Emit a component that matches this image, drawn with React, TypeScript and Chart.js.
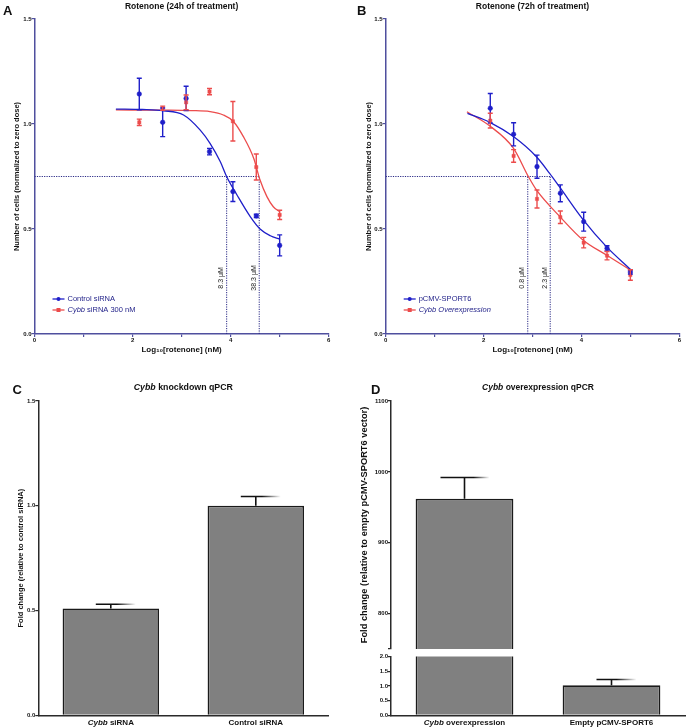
import React, { useEffect, useRef } from 'react';
import { Chart, registerables } from 'chart.js';

Chart.register(...registerables);

const FONT = '"Liberation Sans", Arial, Helvetica, sans-serif';
Chart.defaults.font.family = FONT;
Chart.defaults.color = '#111';

// ---------------- Panel A: Rotenone 24h ----------------
const doseLog10 = [2.137, 2.614, 3.092, 3.569, 4.046, 4.523, 5.0];
const aTitle = 'Rotenone (24h of treatment)';
const aSeriesNames = ['Control siRNA', 'Cybb siRNA 300 nM'];
const aControlMean = [1.143, 1.008, 1.122, 0.868, 0.678, 0.562, 0.422];
const aControlErr = [0.075, 0.068, 0.058, 0.015, 0.047, 0.008, 0.05];
const aCybbMean = [1.008, 1.075, 1.103, 1.154, 1.013, 0.795, 0.567];
const aCybbErr = [0.015, 0.01, 0.035, 0.015, 0.094, 0.062, 0.022];
const aControlFitX = [1.66, 2.2, 2.63, 3.04, 3.38, 3.58, 3.79, 3.92, 4.13, 4.4, 4.6, 4.81, 5.0];
const aControlFitY = [1.071, 1.069, 1.063, 1.043, 0.971, 0.908, 0.82, 0.749, 0.662, 0.559, 0.5, 0.468, 0.452];
const aCybbFitX = [1.66, 2.6, 3.2, 3.58, 3.85, 4.06, 4.26, 4.47, 4.6, 4.74, 4.87, 5.0];
const aCybbFitY = [1.067, 1.066, 1.064, 1.059, 1.043, 1.011, 0.94, 0.837, 0.733, 0.654, 0.606, 0.582];
const aIc50Log = [3.919, 4.583];
const aIc50Labels = ['8.3 μM', '38.3 μM'];

// ---------------- Panel B: Rotenone 72h ----------------
const bTitle = 'Rotenone (72h of treatment)';
const bSeriesNames = ['pCMV-SPORT6', 'Cybb Overexpression'];
const bVectorMean = [1.075, 0.951, 0.797, 0.67, 0.535, 0.408, 0.295];
const bVectorErr = [0.07, 0.055, 0.055, 0.04, 0.045, 0.012, 0.01];
const bCybbMean = [1.016, 0.848, 0.643, 0.556, 0.435, 0.373, 0.281];
const bCybbErr = [0.035, 0.03, 0.043, 0.03, 0.025, 0.02, 0.025];
const bVectorFitX = [1.67, 2.13, 2.61, 3.08, 3.35, 3.56, 4.03, 4.51, 5.0];
const bVectorFitY = [1.051, 1.008, 0.94, 0.844, 0.765, 0.698, 0.546, 0.416, 0.308];
const bCybbFitX = [1.66, 2.13, 2.61, 2.91, 3.08, 3.56, 4.03, 4.51, 5.0];
const bCybbFitY = [1.058, 0.99, 0.885, 0.752, 0.686, 0.559, 0.448, 0.376, 0.305];
const bIc50Log = [2.903, 3.362];
const bIc50Labels = ['0.8 μM', '2.3 μM'];

const halfLevel = 0.75;
const curveYTitle = 'Number of cells (normalized to zero dose)';
const curveXTitle = 'Log₁₀[rotenone] (nM)';

// ---------------- Panel C: knockdown qPCR ----------------
const cTitle = 'Cybb knockdown qPCR';
const cCategories = ['Cybb siRNA', 'Control siRNA'];
const cMeans = [0.51, 1.0];
const cErrors = [0.02, 0.044];
const cYTitle = 'Fold change (relative to control siRNA)';

// ---------------- Panel D: overexpression qPCR ----------------
const dTitle = 'Cybb overexpression qPCR';
const dCategories = ['Cybb overexpression', 'Empty pCMV-SPORT6'];
const dMeans = [962, 1.02];
const dErrors = [30, 0.2];
const dYTitle = 'Fold change (relative to empty pCMV-SPORT6 vector)';

// ---------------- styling ----------------
const BLUE = '#1f1fc9';
const RED = '#ec4c4c';
const AXIS_AB = '#4f4f9e';
const GUIDE = '#2a2a86';
const LEGEND_TEXT = '#24248a';
const AXIS_CD = '#2a2a2a';

type Seg = { t: string; i?: boolean };

function rich(label: string, allItalic = false): Seg[] {
  if (allItalic) return [{ t: label, i: true }];
  if (label.startsWith('Cybb')) return [{ t: 'Cybb', i: true }, { t: label.slice(4) }];
  return [{ t: label }];
}

function drawRich(ctx: CanvasRenderingContext2D, segs: Seg[], x: number, y: number, size: number, weight: string, color: string, align: 'left' | 'center') {
  ctx.save();
  ctx.fillStyle = color;
  ctx.textBaseline = 'middle';
  ctx.textAlign = 'left';
  const fonts = segs.map((s) => `${s.i ? 'italic ' : ''}${weight} ${size}px ${FONT}`);
  let total = 0;
  const widths = segs.map((s, k) => {
    ctx.font = fonts[k];
    const w = ctx.measureText(s.t).width;
    total += w;
    return w;
  });
  let cx = align === 'center' ? x - total / 2 : x;
  segs.forEach((s, k) => {
    ctx.font = fonts[k];
    ctx.fillText(s.t, cx, y);
    cx += widths[k];
  });
  ctx.restore();
}

type Box = { w: number; h: number; l: number; t: number; r: number; b: number };

const tickFont = { size: 6, weight: 'bold' as const };

function curveConfig(p: {
  box: Box; title: string; names: string[]; italicAll: boolean[];
  means: number[][]; errs: number[][]; fitX: number[][]; fitY: number[][];
  ic50: number[]; ic50Labels: string[]; yTitlePad: number;
}): any {
  const colors = [BLUE, RED];
  const styles = ['circle', 'rect'];
  const pts = (i: number) => doseLog10.map((x, k) => ({ x, y: p.means[i][k] }));
  const fit = (i: number) => p.fitX[i].map((x, k) => ({ x, y: p.fitY[i][k] }));
  const maxIc = Math.max(...p.ic50);
  const guide = { showLine: true, borderColor: GUIDE, borderWidth: 1, borderDash: [1.2, 1.2], pointRadius: 0 };
  const datasets: any[] = [
    ...[0, 1].map((i) => ({
      data: pts(i), backgroundColor: colors[i], borderColor: colors[i], pointStyle: styles[i],
      pointRadius: 2.3, pointBorderWidth: 0.5, showLine: false,
    })),
    ...[0, 1].map((i) => ({
      data: fit(i), showLine: true, borderColor: colors[i], borderWidth: 1.3, pointRadius: 0,
      cubicInterpolationMode: 'monotone', fill: false,
    })),
    { data: [{ x: 0, y: halfLevel }, { x: maxIc, y: halfLevel }], ...guide },
    ...p.ic50.map((v) => ({ data: [{ x: v, y: 0 }, { x: v, y: halfLevel }], ...guide })),
  ];
  const { box } = p;
  return {
    type: 'scatter',
    data: { datasets },
    options: {
      animation: false, responsive: false, events: [],
      layout: { padding: { left: 0, top: box.t, right: box.w - box.r, bottom: 0 } },
      plugins: { legend: { display: false }, tooltip: { enabled: false }, title: { display: false } },
      scales: {
        x: {
          type: 'linear', min: 0, max: 6,
          ticks: { stepSize: 1, autoSkip: false, maxRotation: 0, padding: 0, font: tickFont, color: '#111',
            callback: (v: any) => (Number(v) % 2 === 0 ? String(v) : '') },
          grid: { drawOnChartArea: false, drawTicks: true, tickLength: 3, color: AXIS_AB, lineWidth: 1.2 },
          border: { color: AXIS_AB, width: 1.5 },
          title: { display: true, text: curveXTitle, font: { size: 8, weight: 'bold' }, color: '#111', padding: { top: 0, bottom: 5.2 } },
          afterFit: (s: any) => { s.height = box.h - box.b; },
        },
        y: {
          type: 'linear', min: 0, max: 1.5,
          ticks: { stepSize: 0.5, padding: 0, font: tickFont, color: '#111', callback: (v: any) => Number(v).toFixed(1) },
          grid: { drawOnChartArea: false, drawTicks: true, tickLength: 3, color: AXIS_AB, lineWidth: 1.2 },
          border: { color: AXIS_AB, width: 1.5 },
          title: { display: true, text: curveYTitle, font: { size: 7.5, weight: 'bold' }, color: '#111', padding: { top: p.yTitlePad, bottom: 0 } },
          afterFit: (s: any) => { s.width = box.l; },
        },
      },
    },
    plugins: [{
      id: 'curveDecor',
      afterDatasetsDraw(chart: any) {
        const ctx: CanvasRenderingContext2D = chart.ctx;
        const xs = chart.scales.x;
        const ys = chart.scales.y;
        const a = chart.chartArea;
        // error bars
        [0, 1].forEach((i) => {
          const meta = chart.getDatasetMeta(i);
          ctx.save();
          ctx.strokeStyle = colors[i];
          ctx.lineWidth = 1.4;
          meta.data.forEach((el: any, k: number) => {
            const m = p.means[i][k];
            const e = p.errs[i][k];
            const x = el.x;
            const y1 = ys.getPixelForValue(m + e);
            const y2 = ys.getPixelForValue(m - e);
            ctx.beginPath();
            ctx.moveTo(x, y1); ctx.lineTo(x, y2);
            ctx.moveTo(x - 2.5, y1); ctx.lineTo(x + 2.5, y1);
            ctx.moveTo(x - 2.5, y2); ctx.lineTo(x + 2.5, y2);
            ctx.stroke();
          });
          ctx.restore();
        });
        // IC50 labels
        p.ic50.forEach((v, k) => {
          const x = xs.getPixelForValue(v) - 5.5;
          const y = ys.getPixelForValue(0.267);
          ctx.save();
          ctx.translate(x, y);
          ctx.rotate(-Math.PI / 2);
          ctx.font = `normal 7px ${FONT}`;
          ctx.fillStyle = '#222';
          ctx.textAlign = 'center';
          ctx.textBaseline = 'middle';
          ctx.fillText(p.ic50Labels[k], 0, 0);
          ctx.restore();
        });
        // legend
        p.names.forEach((n, i) => {
          const y = a.bottom - 35 + i * 11;
          const x0 = a.left + 18;
          ctx.save();
          ctx.strokeStyle = colors[i];
          ctx.lineWidth = 1.3;
          ctx.beginPath(); ctx.moveTo(x0, y); ctx.lineTo(x0 + 12, y); ctx.stroke();
          ctx.fillStyle = colors[i];
          if (i === 0) { ctx.beginPath(); ctx.arc(x0 + 6, y, 2, 0, Math.PI * 2); ctx.fill(); }
          else ctx.fillRect(x0 + 4, y - 2, 4, 4);
          ctx.restore();
          drawRich(ctx, rich(n, p.italicAll[i]), x0 + 15, y, 7.5, 'normal', LEGEND_TEXT, 'left');
        });
        // title
        drawRich(ctx, [{ t: p.title }], (a.left + a.right) / 2, 7, 8.5, 'bold', '#111', 'center');
      },
    }],
  };
}

function drawBarErrors(chart: any, means: number[], errs: number[], caps: number[][], lw: number) {
  const ctx: CanvasRenderingContext2D = chart.ctx;
  const ys = chart.scales.y;
  const meta = chart.getDatasetMeta(0);
  meta.data.forEach((el: any, k: number) => {
    const m = means[k];
    const e = errs[k];
    if (m < ys.min || m + e > ys.max) return;
    const x = el.x;
    const y0 = ys.getPixelForValue(m);
    const y1 = ys.getPixelForValue(m + e);
    const [cl, cs, cr] = caps[k];
    ctx.save();
    ctx.strokeStyle = '#111';
    ctx.lineWidth = lw;
    ctx.beginPath(); ctx.moveTo(x, y0); ctx.lineTo(x, y1); ctx.stroke();
    const g = ctx.createLinearGradient(x - cl, 0, x + cr, 0);
    g.addColorStop(0, '#111');
    g.addColorStop((cl + cs) / (cl + cr), '#111');
    g.addColorStop(1, 'rgba(17,17,17,0)');
    ctx.strokeStyle = g;
    ctx.beginPath(); ctx.moveTo(x - cl, y1); ctx.lineTo(x + cr, y1); ctx.stroke();
    ctx.restore();
  });
}

function barConfig(p: {
  box: Box; labels: string[]; means: number[]; errs: number[]; min: number; max: number; step: number;
  tickCb: (v: number) => string; showX: boolean; yTitle?: string; yTitleSize?: number; yTitlePad?: number;
  title?: string; titleSize?: number; drawXLabels: boolean; caps: number[][];
}): any {
  const { box } = p;
  return {
    type: 'bar',
    data: {
      labels: p.labels,
      datasets: [{
        data: p.means, backgroundColor: '#808080', borderColor: '#1a1a1a', borderWidth: 1.6,
        barPercentage: 0.665, categoryPercentage: 1, clip: 0,
      }],
    },
    options: {
      animation: false, responsive: false, events: [],
      layout: { padding: { left: 0, top: box.t, right: box.w - box.r, bottom: p.showX ? 0 : box.h - box.b } },
      plugins: { legend: { display: false }, tooltip: { enabled: false }, title: { display: false } },
      scales: {
        x: {
          display: p.showX,
          grid: { display: false },
          ticks: { display: false },
          border: { color: AXIS_CD, width: 1.5 },
          afterFit: (s: any) => { s.height = box.h - box.b; },
        },
        y: {
          type: 'linear', min: p.min, max: p.max,
          ticks: { stepSize: p.step, padding: 0, font: tickFont, color: '#111', callback: (v: any) => p.tickCb(Number(v)) },
          grid: { drawOnChartArea: false, drawTicks: true, tickLength: 3, color: AXIS_CD, lineWidth: 1.2 },
          border: { color: AXIS_CD, width: 1.5 },
          title: p.yTitle
            ? { display: true, text: p.yTitle, font: { size: p.yTitleSize, weight: 'bold' }, color: '#111', padding: { top: p.yTitlePad, bottom: 0 } }
            : { display: false },
          afterFit: (s: any) => { s.width = box.l; },
        },
      },
    },
    plugins: [{
      id: 'barDecor',
      afterDatasetsDraw(chart: any) {
        const ctx: CanvasRenderingContext2D = chart.ctx;
        const a = chart.chartArea;
        drawBarErrors(chart, p.means, p.errs, p.caps, 1.6);
        if (p.drawXLabels) {
          const xs = chart.scales.x;
          p.labels.forEach((l, k) => {
            drawRich(ctx, rich(l), xs.getPixelForValue(k), a.bottom + 7.7, 8, 'bold', '#111', 'center');
          });
        }
        if (p.title) {
          drawRich(ctx, rich(p.title), (a.left + a.right) / 2, 28, p.titleSize || 9, 'bold', '#111', 'center');
        }
      },
    }],
  };
}

const letterStyle = (left: number, top: number): React.CSSProperties => ({
  position: 'absolute', left, top, margin: 0, font: `bold 13px ${FONT}`, lineHeight: '13px', color: '#111',
});

export default function App() {
  const refA = useRef<HTMLCanvasElement>(null);
  const refB = useRef<HTMLCanvasElement>(null);
  const refC = useRef<HTMLCanvasElement>(null);
  const refD1 = useRef<HTMLCanvasElement>(null);
  const refD2 = useRef<HTMLCanvasElement>(null);

  useEffect(() => {
    const charts: Chart[] = [];
    charts.push(new Chart(refA.current!, curveConfig({
      box: { w: 343, h: 360, l: 34.5, t: 19, r: 328.7, b: 334 },
      title: aTitle, names: aSeriesNames, italicAll: [false, false],
      means: [aControlMean, aCybbMean], errs: [aControlErr, aCybbErr],
      fitX: [aControlFitX, aCybbFitX], fitY: [aControlFitY, aCybbFitY],
      ic50: aIc50Log, ic50Labels: aIc50Labels, yTitlePad: 12.2,
    })));
    charts.push(new Chart(refB.current!, curveConfig({
      box: { w: 344, h: 360, l: 42.7, t: 19, r: 336.3, b: 334 },
      title: bTitle, names: bSeriesNames, italicAll: [false, true],
      means: [bVectorMean, bCybbMean], errs: [bVectorErr, bCybbErr],
      fitX: [bVectorFitX, bCybbFitX], fitY: [bVectorFitY, bCybbFitY],
      ic50: bIc50Log, ic50Labels: bIc50Labels, yTitlePad: 21.5,
    })));
    charts.push(new Chart(refC.current!, barConfig({
      box: { w: 343, h: 368, l: 38.3, t: 41, r: 328.3, b: 355.3 },
      labels: cCategories, means: cMeans, errs: cErrors, min: 0, max: 1.5, step: 0.5,
      tickCb: (v) => v.toFixed(1), showX: true, yTitle: cYTitle, yTitleSize: 7.5, yTitlePad: 16.2,
      title: cTitle, titleSize: 8.8, drawXLabels: true, caps: [[15, 6, 25], [15, 6, 25]],
    })));
    charts.push(new Chart(refD1.current!, barConfig({
      box: { w: 344, h: 293, l: 48, t: 41, r: 342, b: 291 },
      labels: dCategories, means: dMeans, errs: dErrors, min: 750, max: 1100, step: 100,
      tickCb: (v) => (v === 750 ? '' : String(v)), showX: false, yTitle: dYTitle, yTitleSize: 9.3, yTitlePad: 15.4,
      title: dTitle, titleSize: 8.5, drawXLabels: false, caps: [[24, 9, 25], [15, 5, 25]],
    })));
    charts.push(new Chart(refD2.current!, barConfig({
      box: { w: 344, h: 75, l: 48, t: 3, r: 342, b: 62.3 },
      labels: dCategories, means: dMeans, errs: dErrors, min: 0, max: 2, step: 0.5,
      tickCb: (v) => v.toFixed(1), showX: true, drawXLabels: true, caps: [[24, 9, 25], [15, 5, 25]],
    })));
    return () => charts.forEach((c) => c.destroy());
  }, []);

  const cv = (left: number, top: number, w: number, h: number): React.CSSProperties => ({
    position: 'absolute', left, top, width: w, height: h,
  });

  return (
    <div style={{ position: 'absolute', left: 0, top: 0, width: 687, height: 728, background: '#fff', overflow: 'hidden' }}>
      <canvas ref={refA} width={343} height={360} style={cv(0, 0, 343, 360)} />
      <canvas ref={refB} width={344} height={360} style={cv(343, 0, 344, 360)} />
      <canvas ref={refC} width={343} height={368} style={cv(0, 360, 343, 368)} />
      <canvas ref={refD1} width={344} height={293} style={cv(343, 360, 344, 293)} />
      <canvas ref={refD2} width={344} height={75} style={cv(343, 653, 344, 75)} />
      <div style={letterStyle(3, 4.3)}>A</div>
      <div style={letterStyle(357, 4.3)}>B</div>
      <div style={letterStyle(12.5, 383.3)}>C</div>
      <div style={letterStyle(371, 383.3)}>D</div>
    </div>
  );
}
